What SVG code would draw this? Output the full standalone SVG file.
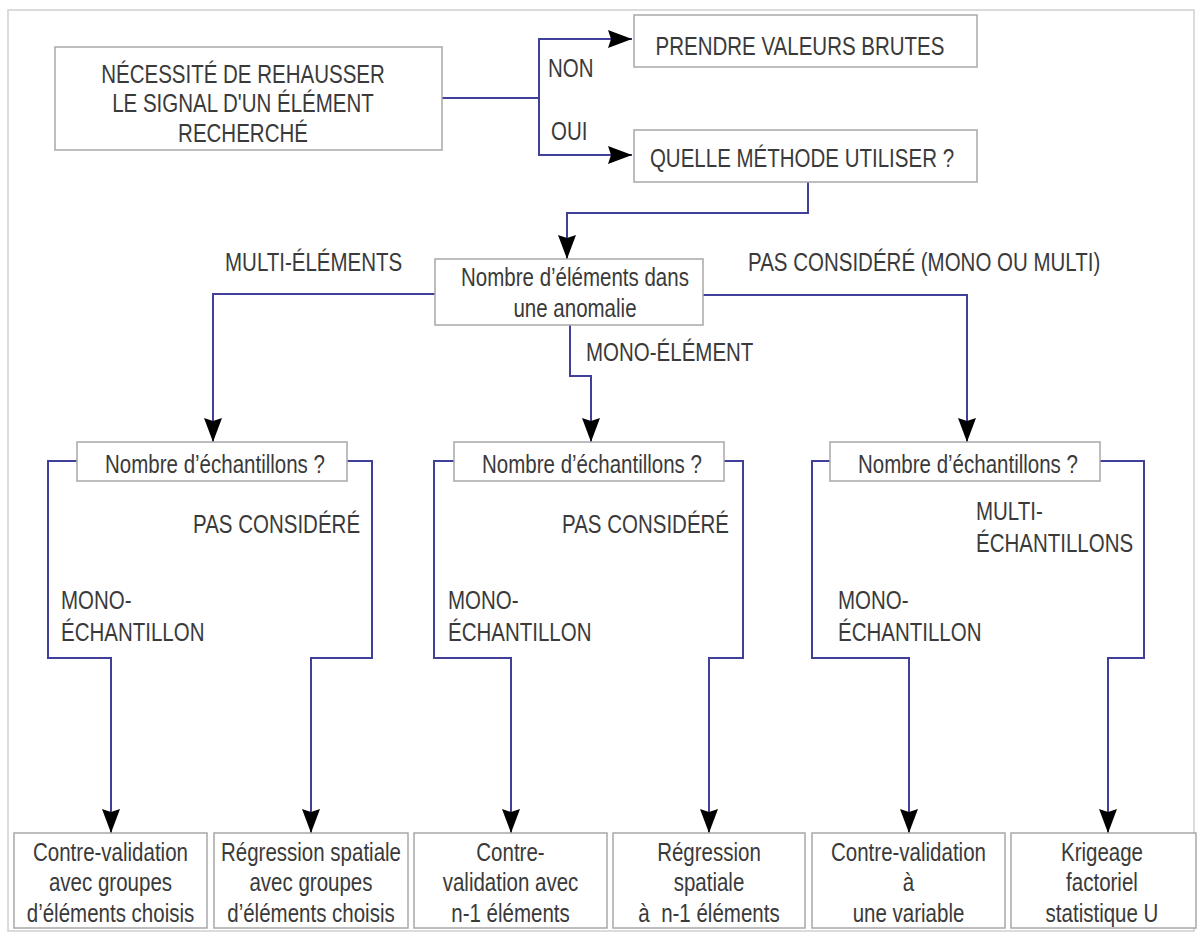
<svg xmlns="http://www.w3.org/2000/svg" width="1198" height="934" viewBox="0 0 1198 934">
<style>
.box{fill:#fff;stroke:#a8a8a8;stroke-width:1.5}
.t{font-family:"Liberation Sans",Arial,sans-serif;font-size:26.5px;fill:#3a3a3a}
.m{text-anchor:middle}
.c{fill:none;stroke:#40409a;stroke-width:2}
.a{marker-end:url(#arr)}
</style>
<defs>
<marker id="arr" viewBox="0 0 24 18" refX="24" refY="9" markerWidth="24" markerHeight="18" markerUnits="userSpaceOnUse" orient="auto"><path d="M0,0 L24,9 L0,18 L3,9 Z" fill="#000"/></marker>
</defs>
<rect x="0" y="0" width="1198" height="934" fill="#fff"/>
<rect x="8" y="10" width="1186" height="921" fill="#fff" stroke="#cfcfcf" stroke-width="1.5"/>

<g id="connectors">
<path class="c" d="M442,98 H539"/>
<path class="c a" d="M539,98 V39 H632"/>
<path class="c a" d="M539,98 V155 H632"/>
<path class="c a" d="M808,182 V213 H567 V259"/>
<path class="c a" d="M435,294 H213 V442"/>
<path class="c a" d="M703,295 H967 V442"/>
<path class="c a" d="M570,325 V376 H591 V442"/>
<path class="c a" d="M77,461 H48 V658 H111 V833"/>
<path class="c a" d="M347,461 H372 V658 H311 V833"/>
<path class="c a" d="M454,461 H434 V658 H511 V833"/>
<path class="c a" d="M724,461 H743 V658 H709 V833"/>
<path class="c a" d="M830,461 H812 V658 H909 V833"/>
<path class="c a" d="M1100,461 H1144 V658 H1108 V833"/>
</g>

<g id="labels">
<text class="t" transform="scale(0.7736 1)" x="708.38" y="77">NON</text>
<text class="t" transform="scale(0.7736 1)" x="712.26" y="140">OUI</text>
<text class="t" transform="scale(0.7736 1)" x="290.85" y="271">MULTI-ÉLÉMENTS</text>
<text class="t" transform="scale(0.7736 1)" x="966.91" y="271">PAS CONSIDÉRÉ (MONO OU MULTI)</text>
<text class="t" transform="scale(0.7736 1)" x="757.50" y="361">MONO-ÉLÉMENT</text>
<text class="t" transform="scale(0.7736 1)" x="249.48" y="533">PAS CONSIDÉRÉ</text>
<text class="t" transform="scale(0.7736 1)" x="726.47" y="533">PAS CONSIDÉRÉ</text>
<text class="t" transform="scale(0.7736 1)" x="78.85" y="609">MONO-<tspan x="78.85" y="641">ÉCHANTILLON</tspan></text>
<text class="t" transform="scale(0.7736 1)" x="579.11" y="609">MONO-<tspan x="579.11" y="641">ÉCHANTILLON</tspan></text>
<text class="t" transform="scale(0.7736 1)" x="1083.25" y="609">MONO-<tspan x="1083.25" y="641">ÉCHANTILLON</tspan></text>
<text class="t" transform="scale(0.7736 1)" x="1261.64" y="520">MULTI-<tspan x="1261.64" y="552">ÉCHANTILLONS</tspan></text>
</g>

<g id="n1">
<rect class="box" x="55" y="47" width="387" height="103"/>
<text class="t m" transform="scale(0.7736 1)" x="314.12" y="83">NÉCESSITÉ DE REHAUSSER<tspan x="314.12" y="112">LE SIGNAL D'UN ÉLÉMENT</tspan><tspan x="314.12" y="142">RECHERCHÉ</tspan></text>
</g>
<g id="n2">
<rect class="box" x="634" y="15" width="343" height="52"/>
<text class="t m" transform="scale(0.7736 1)" x="1034.13" y="55">PRENDRE VALEURS BRUTES</text>
</g>
<g id="n3">
<rect class="box" x="634" y="130" width="343" height="52"/>
<text class="t m" transform="scale(0.7736 1)" x="1036.71" y="167">QUELLE MÉTHODE UTILISER ?</text>
</g>
<g id="n4">
<rect class="box" x="435" y="259" width="268" height="66"/>
<text class="t m" transform="scale(0.7736 1)" x="743.28" y="286">Nombre d’éléments dans<tspan x="743.28" y="317">une anomalie</tspan></text>
</g>
<g id="n5">
<rect class="box" x="77" y="442" width="270" height="39"/>
<text class="t m" transform="scale(0.7736 1)" x="277.92" y="473">Nombre d’échantillons ?</text>
</g>
<g id="n6">
<rect class="box" x="454" y="442" width="270" height="39"/>
<text class="t m" transform="scale(0.7736 1)" x="765.26" y="473">Nombre d’échantillons ?</text>
</g>
<g id="n7">
<rect class="box" x="830" y="442" width="270" height="39"/>
<text class="t m" transform="scale(0.7736 1)" x="1251.30" y="473">Nombre d’échantillons ?</text>
</g>

<g id="r1">
<rect class="box" x="14" y="833" width="193" height="95"/>
<text class="t m" transform="scale(0.7736 1)" x="142.84" y="861">Contre-validation<tspan x="142.84" y="891">avec groupes</tspan><tspan x="142.84" y="922">d’éléments choisis</tspan></text>
</g>
<g id="r2">
<rect class="box" x="214" y="833" width="194" height="95"/>
<text class="t m" transform="scale(0.7736 1)" x="402.02" y="861">Régression spatiale<tspan x="402.02" y="891">avec groupes</tspan><tspan x="402.02" y="922">d’éléments choisis</tspan></text>
</g>
<g id="r3">
<rect class="box" x="414" y="833" width="193" height="95"/>
<text class="t m" transform="scale(0.7736 1)" x="659.90" y="861">Contre-<tspan x="659.90" y="891">validation avec</tspan><tspan x="659.90" y="922">n-1 éléments</tspan></text>
</g>
<g id="r4">
<rect class="box" x="613" y="833" width="192" height="95"/>
<text class="t m" transform="scale(0.7736 1)" x="916.50" y="861" xml:space="preserve">Régression<tspan x="916.50" y="891">spatiale</tspan><tspan x="916.50" y="922">à  n-1 éléments</tspan></text>
</g>
<g id="r5">
<rect class="box" x="812" y="833" width="193" height="95"/>
<text class="t m" transform="scale(0.7736 1)" x="1174.38" y="861">Contre-validation<tspan x="1174.38" y="891">à</tspan><tspan x="1174.38" y="922">une variable</tspan></text>
</g>
<g id="r6">
<rect class="box" x="1011" y="833" width="185" height="95"/>
<text class="t m" transform="scale(0.7736 1)" x="1424.51" y="861">Krigeage<tspan x="1424.51" y="891">factoriel</tspan><tspan x="1424.51" y="922">statistique U</tspan></text>
</g>
</svg>
